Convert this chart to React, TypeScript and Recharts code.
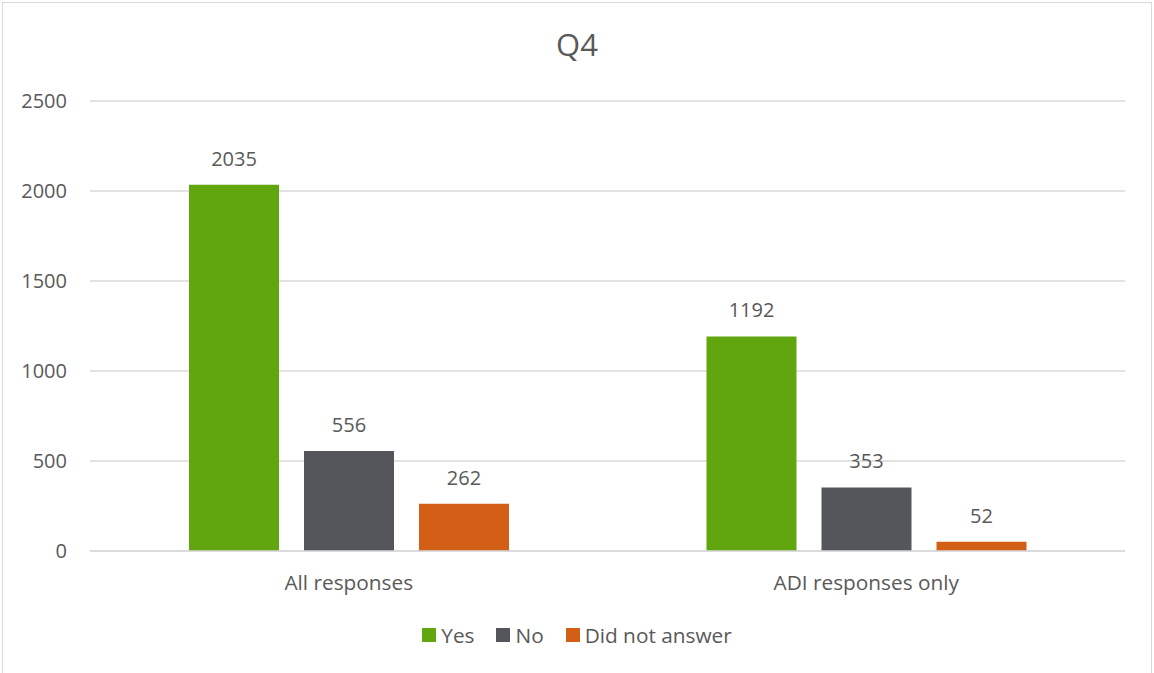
import { BarChart, Bar, XAxis, YAxis, CartesianGrid, LabelList } from "recharts";

const categories = ["All responses", "ADI responses only"];
const yes = [2035, 1192];
const no = [556, 353];
const didNotAnswer = [262, 52];
const yTicks = [0, 500, 1000, 1500, 2000, 2500];

const SERIES = [
  { key: "Yes", color: "#62A60F" },
  { key: "No", color: "#55565B" },
  { key: "Did not answer", color: "#D35F17" },
];

const data = categories.map((name, i) => ({
  name,
  Yes: yes[i],
  No: no[i],
  "Did not answer": didNotAnswer[i],
}));

const FONT = "'Open Sans', 'Noto Sans', sans-serif";
const TEXT = "#595959";

function LegendBox() {
  return (
    <div
      style={{
        position: "absolute",
        top: 621,
        left: 0,
        width: 1154,
        display: "flex",
        justifyContent: "center",
        fontFamily: FONT,
        fontSize: 20.8,
        color: TEXT,
        paddingLeft: 22,
        boxSizing: "border-box",
      }}
    >
      {SERIES.map((s) => (
        <div key={s.key} style={{ display: "flex", alignItems: "center", marginRight: 22 }}>
          <span style={{ width: 14, height: 14, background: s.color, marginRight: 5, display: "inline-block" }} />
          <span>{s.key}</span>
        </div>
      ))}
    </div>
  );
}

export default function App() {
  return (
    <div style={{ position: "relative", width: 1154, height: 673, background: "#fff" }}>
      <style>{"body{margin:0}"}</style>
      <div
        style={{
          position: "absolute",
          left: 2,
          top: 2,
          width: 1150,
          height: 672,
          border: "1px solid #D9D9D9",
          boxSizing: "border-box",
        }}
      />
      <div
        style={{
          position: "absolute",
          top: 23,
          width: "100%",
          textAlign: "center",
          fontFamily: FONT,
          fontSize: 31,
          color: TEXT,
        }}
      >
        Q4
      </div>
      <div style={{ position: "absolute", left: 0, top: 0 }}>
        <BarChart
          width={1154}
          height={673}
          data={data}
          margin={{ top: 101, right: 29, left: 0, bottom: 0 }}
          barGap={25}
        >
          <CartesianGrid vertical={false} stroke="#D9D9D9" strokeWidth={1.5} />
          <XAxis
            dataKey="name"
            axisLine={{ stroke: "#D9D9D9", strokeWidth: 1.5 }}
            tickLine={false}
            tickSize={0}
            tickMargin={24}
            height={122}
            tick={{ fill: TEXT, fontSize: 20.8, fontFamily: FONT }}
          />
          <YAxis
            domain={[0, 2500]}
            ticks={yTicks}
            axisLine={false}
            tickLine={false}
            tickSize={0}
            tickMargin={23}
            width={90}
            tick={{ fill: TEXT, fontSize: 20, fontFamily: FONT }}
          />
          {SERIES.map((s) => (
            <Bar key={s.key} dataKey={s.key} fill={s.color} barSize={90} isAnimationActive={false}>
              <LabelList
                dataKey={s.key}
                position="top"
                offset={19}
                fill={TEXT}
                fontSize={20}
                fontFamily={FONT}
              />
            </Bar>
          ))}
        </BarChart>
      </div>
      <LegendBox />
    </div>
  );
}
